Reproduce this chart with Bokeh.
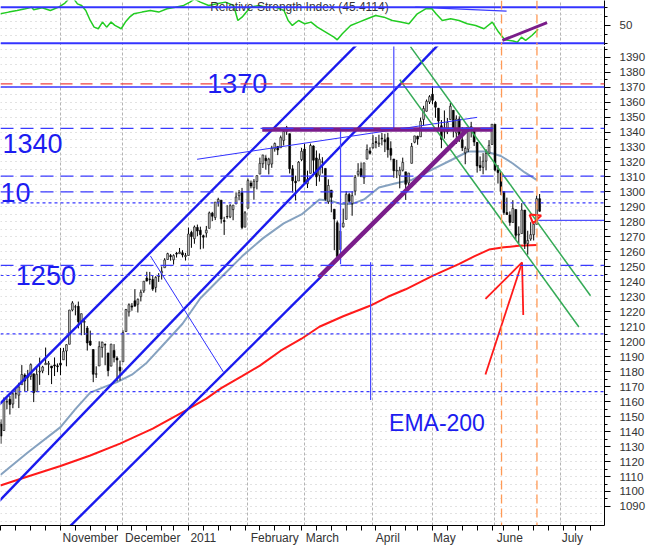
import numpy as np
from bokeh.plotting import figure
from bokeh.layouts import column
from bokeh.models import Range1d, FixedTicker, Span, Arrow, ColumnDataSource
from bokeh.core.properties import value
from bokeh.embed import file_html
from bokeh.resources import INLINE

# ---------------- data (trading-day index: 0 = 1 Oct 2010 ... 182 = 22 Jun 2011) ----------------
opens = [
    1143.5, 1145.0, 1140.7, 1159.8, 1161.6, 1158.4, 1165.3, 1164.3, 1171.3, 1177.8, 1177.5, 1176.8, 1178.6, 1166.7, 1179.8, 1180.5, 1184.7, 1184.9, 1183.8, 1184.5, 1183.9,
    1185.7, 1187.9, 1193.8, 1198.3, 1221.2, 1223.2, 1223.6, 1213.1, 1213.0, 1209.1, 1200.4, 1194.8, 1178.3, 1183.8, 1196.1, 1198.1, 1192.5, 1183.7, 1194.2, 1189.1, 1183.0,
    1186.6, 1206.8, 1219.9, 1223.9, 1227.3, 1225.0, 1230.1, 1233.9, 1242.5, 1241.8, 1241.6, 1236.3, 1243.6, 1245.8, 1249.4, 1254.9, 1257.5, 1254.7, 1259.1, 1258.8, 1259.4, 1256.8,
    1257.6, 1273.0, 1268.8, 1276.3, 1274.4, 1270.8, 1272.6, 1275.7, 1285.8, 1282.9, 1293.2, 1294.5, 1280.9, 1283.6, 1283.3, 1288.2, 1292.0, 1297.5, 1299.6, 1276.5,
    1289.1, 1305.9, 1302.8, 1307.0, 1311.9, 1318.8, 1322.5, 1318.1, 1318.7, 1328.7, 1330.4, 1329.5, 1334.4, 1340.4, 1338.9, 1315.4, 1307.1, 1307.3, 1321.6,
    1328.6, 1305.5, 1312.4, 1330.7, 1322.7, 1311.1, 1319.9, 1315.7, 1293.4, 1301.2, 1288.5, 1279.5, 1261.6, 1276.7, 1281.7, 1298.3, 1292.2, 1300.6, 1311.8, 1315.5, 1309.4, 1321.9, 1327.4,
    1329.5, 1333.6, 1332.0, 1335.9, 1334.8, 1336.2, 1329.0, 1322.0, 1314.0, 1311.1, 1314.5, 1313.4, 1306.0, 1319.1, 1333.2, 1337.1, 1336.8, 1348.4, 1353.9, 1360.1,
    1365.2, 1359.8, 1355.9, 1344.2, 1340.2, 1340.2, 1348.3, 1354.5, 1339.4, 1348.7, 1334.8, 1326.1, 1328.5, 1342.4, 1342.0, 1333.1, 1317.7, 1316.4, 1320.6, 1325.7, 1331.7,
    1345.2, 1314.6, 1312.9, 1300.3, 1286.3, 1284.6, 1279.6, 1288.3, 1271.3, 1272.2, 1287.9, 1265.5, 1268.6, 1271.5, 1278.4, 1295.5,
]
highs = [
    1150.3, 1148.2, 1162.8, 1162.3, 1163.9, 1167.7, 1168.7, 1172.6, 1184.4, 1178.9, 1181.2, 1185.5, 1178.6, 1182.9, 1189.4, 1183.9, 1196.1, 1187.1, 1183.8, 1189.5, 1185.5,
    1195.8, 1195.9, 1198.3, 1221.3, 1227.1, 1224.6, 1226.8, 1218.8, 1215.5, 1210.5, 1207.4, 1194.8, 1183.6, 1200.3, 1200.0, 1198.9, 1192.5, 1198.6, 1198.4, 1190.3, 1187.4,
    1207.6, 1221.9, 1225.6, 1225.8, 1235.1, 1228.9, 1234.7, 1240.4, 1246.7, 1246.6, 1244.3, 1243.8, 1245.8, 1250.2, 1255.8, 1259.4, 1258.6, 1258.4, 1259.9, 1262.6, 1261.1, 1259.3,
    1276.2, 1274.1, 1277.6, 1278.2, 1276.8, 1271.5, 1277.3, 1286.9, 1286.7, 1293.2, 1296.1, 1294.6, 1283.4, 1291.2, 1291.9, 1291.3, 1299.7, 1301.3, 1302.7, 1287.2,
    1308.9, 1307.6, 1308.6, 1311.0, 1322.9, 1324.9, 1324.5, 1322.8, 1330.8, 1333.0, 1330.4, 1337.6, 1341.5, 1344.1, 1338.9, 1317.9, 1310.9, 1320.6, 1329.4,
    1332.1, 1314.2, 1332.3, 1331.1, 1327.7, 1325.7, 1323.2, 1315.7, 1308.4, 1301.2, 1288.5, 1280.9, 1278.9, 1288.9, 1300.6, 1299.4, 1300.5, 1311.3, 1319.2, 1319.7, 1319.5, 1331.7, 1329.8,
    1337.9, 1336.7, 1338.2, 1339.4, 1338.8, 1339.5, 1333.8, 1322.0, 1321.4, 1316.8, 1322.9, 1313.4, 1312.7, 1332.7, 1337.5, 1337.6, 1349.6, 1357.5, 1361.7, 1364.6,
    1370.6, 1360.8, 1355.9, 1348.0, 1354.4, 1349.4, 1359.4, 1354.5, 1351.1, 1350.5, 1343.3, 1330.4, 1341.8, 1346.8, 1342.0, 1333.1, 1323.7, 1325.9, 1328.5, 1334.6, 1345.2,
    1345.2, 1318.0, 1312.9, 1300.3, 1296.2, 1287.0, 1294.5, 1288.3, 1277.0, 1292.5, 1287.9, 1274.1, 1279.8, 1280.4, 1297.6, 1298.6,
]
lows = [
    1139.4, 1131.9, 1140.7, 1154.9, 1151.4, 1155.6, 1162.0, 1155.7, 1171.3, 1166.7, 1167.1, 1174.6, 1159.7, 1166.7, 1171.2, 1179.0, 1184.7, 1177.7, 1171.7, 1177.1, 1179.7,
    1177.7, 1187.9, 1183.6, 1198.3, 1220.3, 1217.6, 1208.9, 1204.3, 1204.5, 1194.1, 1197.2, 1173.0, 1175.8, 1183.8, 1189.4, 1184.3, 1176.9, 1183.7, 1186.2, 1173.6, 1174.1,
    1186.6, 1206.8, 1216.8, 1220.7, 1223.3, 1219.5, 1226.9, 1232.6, 1240.3, 1238.2, 1234.0, 1232.9, 1239.9, 1241.5, 1249.4, 1254.9, 1254.1, 1251.5, 1256.2, 1258.8, 1256.3, 1254.2,
    1257.6, 1262.7, 1265.4, 1270.4, 1261.7, 1262.2, 1269.6, 1275.7, 1280.5, 1281.2, 1290.2, 1278.9, 1271.3, 1282.1, 1282.5, 1281.1, 1292.0, 1294.4, 1275.1, 1276.5,
    1289.1, 1302.4, 1294.8, 1301.7, 1311.9, 1316.0, 1314.9, 1311.7, 1316.1, 1326.9, 1324.6, 1329.5, 1331.0, 1338.1, 1312.3, 1299.6, 1294.3, 1307.3, 1320.6,
    1305.3, 1302.6, 1312.4, 1312.6, 1304.0, 1306.9, 1312.3, 1294.2, 1292.0, 1286.4, 1261.1, 1254.0, 1261.6, 1276.2, 1281.7, 1292.7, 1284.1, 1297.7, 1310.2, 1310.2, 1305.3, 1321.9, 1325.0,
    1328.9, 1329.1, 1330.0, 1331.1, 1326.6, 1322.9, 1321.1, 1309.5, 1309.2, 1302.4, 1313.7, 1294.7, 1304.0, 1319.1, 1332.5, 1331.5, 1336.8, 1344.3, 1353.6, 1358.7,
    1358.6, 1349.5, 1341.5, 1329.2, 1335.6, 1338.6, 1348.3, 1336.4, 1332.0, 1333.4, 1327.3, 1318.5, 1326.6, 1336.4, 1330.7, 1312.9, 1313.9, 1311.8, 1314.4, 1325.7, 1331.7,
    1313.7, 1305.6, 1297.9, 1284.7, 1284.7, 1277.4, 1279.6, 1268.3, 1265.6, 1272.2, 1261.9, 1258.1, 1267.4, 1267.6, 1278.4, 1286.8,
]
closes = [
    1146.2, 1137.0, 1160.8, 1160.0, 1158.1, 1165.2, 1165.3, 1169.8, 1178.1, 1173.8, 1176.2, 1184.7, 1165.9, 1178.2, 1180.3, 1183.1, 1185.6, 1185.6, 1182.5, 1183.8, 1183.3,
    1184.4, 1193.6, 1198.0, 1221.1, 1225.9, 1223.3, 1213.4, 1218.7, 1213.5, 1199.2, 1197.8, 1178.3, 1178.6, 1196.7, 1199.7, 1197.8, 1180.7, 1198.4, 1189.4, 1187.8, 1180.6,
    1206.1, 1221.5, 1224.7, 1223.1, 1223.8, 1228.3, 1233.0, 1240.4, 1240.5, 1241.6, 1235.2, 1242.9, 1243.9, 1247.1, 1254.6, 1258.8, 1256.8, 1257.5, 1258.5, 1259.8, 1257.9, 1257.6,
    1271.9, 1270.2, 1276.6, 1273.9, 1271.5, 1269.8, 1274.5, 1286.0, 1283.8, 1293.2, 1295.0, 1281.9, 1280.3, 1283.4, 1290.8, 1291.2, 1296.6, 1299.5, 1276.3, 1286.1,
    1307.6, 1304.0, 1307.1, 1310.9, 1319.1, 1324.6, 1320.9, 1321.9, 1329.2, 1332.3, 1328.0, 1336.3, 1340.4, 1343.0, 1315.4, 1307.4, 1306.1, 1319.9, 1327.2,
    1306.3, 1308.4, 1331.0, 1321.2, 1310.1, 1321.8, 1320.0, 1295.1, 1304.3, 1296.4, 1281.9, 1256.9, 1273.7, 1279.2, 1298.4, 1293.8, 1297.5, 1309.7, 1313.8, 1310.2, 1319.4, 1328.3, 1325.8,
    1332.4, 1332.9, 1332.6, 1335.5, 1333.5, 1328.2, 1324.5, 1314.2, 1314.4, 1314.5, 1319.7, 1305.1, 1312.6, 1330.4, 1337.4, 1335.3, 1347.2, 1355.7, 1360.5, 1363.6,
    1361.2, 1356.6, 1347.3, 1335.1, 1340.2, 1346.3, 1357.2, 1342.1, 1348.7, 1337.8, 1329.5, 1329.0, 1340.7, 1343.6, 1333.3, 1317.4, 1316.3, 1320.5, 1325.7, 1331.1, 1345.2,
    1314.6, 1312.9, 1300.2, 1286.2, 1284.9, 1279.6, 1289.0, 1271.0, 1271.8, 1287.9, 1265.4, 1267.6, 1271.5, 1278.4, 1295.5, 1287.1,
]

# moving averages (day index, value)
ema50_day = [0.8, 10, 21, 26, 31, 36, 40, 45, 50, 56, 62, 68, 75, 82, 89, 96, 102, 108, 112, 115, 119, 123, 128, 134, 139, 146, 152, 158, 164, 169, 173, 177, 181]
ema50_val = [1111, 1126, 1143, 1155, 1166, 1170, 1173, 1178, 1186, 1199, 1212, 1229, 1243, 1257, 1269, 1279, 1285, 1295, 1294, 1292, 1292, 1295, 1303, 1306, 1308, 1315, 1321, 1327, 1327, 1324, 1319, 1313, 1308]
ema200_day = [0.8, 10, 21, 31, 41, 52, 63, 70, 75, 82, 88, 95, 102, 108, 116, 125, 131, 137, 146, 155, 160, 165, 170, 175, 181]
ema200_val = [1104, 1110, 1117, 1124, 1132, 1142, 1154, 1162, 1169, 1177, 1184, 1194, 1202, 1210, 1217, 1224, 1230, 1235, 1244, 1252, 1257, 1261.5, 1263, 1264, 1264.5]

# RSI
rsi_day = [0.8, 3.6, 6.4, 9.2, 11.3, 12.0, 14.8, 17.6, 20.4, 22.5, 24.0, 25.3, 26.7, 28.1, 29.5, 31.0, 32.3, 33.7,
           35.1, 36.5, 38.0, 39.3, 41.4, 42.8, 44.2, 45.6, 48.4, 51.2, 54.0, 56.8, 59.6, 62.4, 64.5, 66.0, 68.0, 70.8,
           73.6, 76.4, 79.2, 80.6, 82.0, 84.8, 87.6, 90.4, 93.2, 96.1, 97.5, 98.9, 101.0, 103.1, 105.2, 107.3, 110.1,
           112.9, 114.0, 115.7, 118.5, 121.3, 124.1, 126.9, 129.7, 132.5, 135.3, 138.1, 140.9, 143.7, 145.8, 147.2,
           149.3, 152.1, 154.9, 157.7, 160.5, 163.3, 166.1, 168.2, 170.3, 173.1, 174.5, 175.9, 177.3, 179.4, 181.5]
rsi_val = [62.6, 64.5, 66.3, 68.2, 70.0, 67.1, 69.3, 66.3, 70.0, 74.5, 80.0, 80.0, 73.7, 71.9, 66.3, 55.2, 47.8, 46.0,
           53.4, 47.8, 53.4, 49.7, 46.0, 53.4, 58.9, 62.6, 64.5, 66.3, 64.5, 68.2, 70.0, 71.9, 75.6, 79.0, 75.6, 71.9,
           73.7, 75.6, 71.9, 55.2, 58.9, 70.0, 71.9, 70.0, 70.0, 66.3, 55.2, 49.7, 55.2, 51.5, 53.4, 47.8, 42.3,
           36.7, 33.7, 40.4, 49.7, 53.4, 57.1, 60.8, 58.9, 55.2, 53.4, 51.5, 62.6, 68.2, 68.2, 62.6,
           55.2, 57.1, 55.2, 51.5, 49.7, 46.0, 53.4, 42.3, 33.7, 32.3, 31.1, 36.7, 33.0, 38.5, 45.4]

# horizontal support / resistance levels
level_red_dash = [1372.2]
level_solid = [1370.0]
level_long_dash = [1342.5, 1310.5, 1300.0, 1251.0]
level_dotted = [1292.7, 1244.2, 1205.2, 1166.7]
level_short = [1281.0]          # short solid level at the right
level_short_from = [181.6]

# blue up-channel (day0, price0, day1, price1)
chan_x0 = [0.0, 0.0, 23.8]
chan_y0 = [1157.2, 1092.8, 1076.0]
chan_x1 = [125.0, 155.0, 108.4]
chan_y1 = [1407.2, 1412.8, 1243.1]

# thin blue helper lines
thin_x0 = [51.2, 66.9]
thin_y0 = [1257.3, 1321.8]
thin_x1 = [75.7, 161.0]
thin_y1 = [1179.9, 1349.8]
vert_x = [133.0, 115.1, 125.2]
vert_y0 = [1400.0, 1342.7, 1253.1]
vert_y1 = [1342.5, 1251.8, 1161.1]

# purple lines
purple_x0 = [88.8, 107.8]
purple_y0 = [1341.7, 1243.0]
purple_x1 = [166.2, 158.1]
purple_y1 = [1341.7, 1342.4]

# green down-channel
green_x0 = [138.6, 135.0]
green_y0 = [1397.0, 1375.0]
green_x1 = [199.1, 195.2]
green_y1 = [1230.7, 1209.8]

# orange dashed verticals
orange_days = [169.2, 181.1]

# red arrows to the 200-EMA
arrow_tip_x, arrow_tip_y = 176.1, 1252.9
arrow_tail_x = [163.8, 163.8, 176.5]
arrow_tail_y = [1178.1, 1228.6, 1217.9]
small_arrow_x = [178.6, 182.5, 179.8, 178.6]
small_arrow_y = [1284.9, 1284.3, 1279.0, 1284.9]

# RSI-panel extra lines
rsi_thin_x = [140.2, 170.9]
rsi_thin_y = [70.0, 65.6]
rsi_purple_x = [169.5, 184.5]
rsi_purple_y = [33.0, 52.7]

# axis ticks
month_names = ["November", "December", "2011", "February", "March", "April", "May", "June", "July"]
month_start = [21, 42, 64, 84, 103, 126, 146, 167, 189]
week_start = [1, 6, 11, 16, 21, 26, 31, 36, 40, 45, 50, 55, 59, 64, 69, 74, 78, 83, 88, 93, 98, 102, 107, 112,
              117, 122, 127, 132, 137, 141, 146, 151, 156, 161, 166, 170, 175, 180, 185, 190, 194, 199]
price_ticks = list(range(1090, 1400, 10))

# ---------------- layout constants ----------------
X0, X1 = 0.84, 203.8
PX_PER_DAY = 604 / (X1 - X0)
BLUE = "#1a1aee"
TXT_BLUE = "#1c1cf0"
PURPLE = "#7a1d8a"
GREEN = "#33aa55"
ORANGE = "#ff9955"
RED = "#ff1a1a"
EMA50_C = "#86a2c0"
DOTS = "#c4c4c4"

xr = Range1d(X0, X1)

# ---------------- RSI panel ----------------
r = figure(width=650, height=45, x_range=xr, y_range=Range1d(27.4, 77.4),
           output_backend="svg", toolbar_location=None, y_axis_location="right",
           x_axis_location=None, min_border_left=0, min_border_right=46,
           min_border_top=0, min_border_bottom=0)
r.outline_line_color = None
r.xgrid.ticker = FixedTicker(ticks=month_start)
r.xgrid.grid_line_color = "#b4b4b4"
r.xgrid.grid_line_dash = "3 2"
r.ygrid.ticker = FixedTicker(ticks=list(range(30, 80, 8)))
r.ygrid.grid_line_color = DOTS
r.ygrid.grid_line_dash = "1 4"
for lv in (70, 30):
    r.add_layout(Span(location=lv, dimension="width", line_color="#3434ff", line_width=2))
r.line(rsi_thin_x, rsi_thin_y, line_color="#3a3aff", line_width=1.2)
for d in orange_days:
    r.add_layout(Span(location=d, dimension="height", line_color=ORANGE, line_width=1.3, line_dash="9 5"))
r.line(rsi_day, rsi_val, line_color="#22cc22", line_width=1.5)
r.line(rsi_purple_x, rsi_purple_y, line_color=PURPLE, line_width=3)
r.text(x=[101.3], y=[69.7], text=["Relative Strength Index (45.4114)"], text_font=value("Liberation Sans"),
       text_font_size="12px", text_color="#333333", text_align="center", text_baseline="middle")
ra = r.yaxis[0]
ra.ticker = FixedTicker(ticks=[50], minor_ticks=[30, 40, 60, 70])
ra.axis_line_color = "black"
ra.major_tick_out = 6
ra.major_tick_in = 0
ra.minor_tick_out = 3
ra.minor_tick_in = 0
ra.major_label_standoff = 9
ra.major_label_text_font = "Liberation Sans"
ra.major_label_text_font_size = "11.5px"
ra.major_label_text_color = "#333333"

# ---------------- price panel ----------------
p = figure(width=650, height=502, x_range=xr, y_range=Range1d(1077.3, 1397.1),
           output_backend="svg", toolbar_location=None, y_axis_location="right",
           min_border_left=0, min_border_right=46, min_border_top=1, min_border_bottom=19)
p.outline_line_color = None
p.xgrid.ticker = FixedTicker(ticks=month_start)
p.xgrid.grid_line_color = "#b4b4b4"
p.xgrid.grid_line_dash = "3 2"
p.ygrid.ticker = FixedTicker(ticks=list(range(1080, 1400, 5)))
p.ygrid.grid_line_color = DOTS
p.ygrid.grid_line_dash = "1 4"

for lv in level_red_dash:
    p.add_layout(Span(location=lv, dimension="width", line_color="#ee4444", line_width=1.3, line_dash="12 8"))
for lv in level_solid:
    p.add_layout(Span(location=lv, dimension="width", line_color="#3a3aff", line_width=1.5))
for lv in level_long_dash:
    p.add_layout(Span(location=lv, dimension="width", line_color="#3a3aff", line_width=1.3, line_dash="13 7"))
for lv in level_dotted:
    p.add_layout(Span(location=lv, dimension="width", line_color="#3a3aff", line_width=1.2, line_dash="3 3"))
for lv, x0 in zip(level_short, level_short_from):
    p.line([x0, X1], [lv, lv], line_color="#5050ff", line_width=1.3)
for d in orange_days:
    p.add_layout(Span(location=d, dimension="height", line_color=ORANGE, line_width=1.3, line_dash="9 5"))

# moving averages
p.line(ema200_day, ema200_val, line_color=RED, line_width=2)
p.line(ema50_day, ema50_val, line_color=EMA50_C, line_width=2)

# candles
o = np.array(opens); c = np.array(closes)
up = c >= o
src = ColumnDataSource(dict(
    x=np.arange(len(closes)), h=highs, l=lows,
    top=np.maximum(o, c), bottom=np.minimum(o, c),
    fill=np.where(up, "#c4c4c4", "#000000"),
))
p.segment(x0="x", y0="l", x1="x", y1="h", source=src, line_color="black", line_width=1)
p.vbar(x="x", width=0.62, top="top", bottom="bottom", source=src, fill_color="fill",
       line_color="black", line_width=0.6)

# trend lines
p.segment(x0=chan_x0, y0=chan_y0, x1=chan_x1, y1=chan_y1, line_color=BLUE, line_width=2.4)
p.segment(x0=thin_x0, y0=thin_y0, x1=thin_x1, y1=thin_y1, line_color="#3030ff", line_width=1)
p.segment(x0=vert_x, y0=vert_y0, x1=vert_x, y1=vert_y1, line_color="#4848ff", line_width=1.2)
p.segment(x0=green_x0, y0=green_y0, x1=green_x1, y1=green_y1, line_color=GREEN, line_width=1.5)
p.segment(x0=purple_x0, y0=purple_y0, x1=purple_x1, y1=purple_y1, line_color=PURPLE, line_width=4.5)

# red arrows
p.segment(x0=arrow_tail_x, y0=arrow_tail_y, x1=[arrow_tip_x] * 3, y1=[arrow_tip_y] * 3,
          line_color=RED, line_width=1.8)
p.line(small_arrow_x, small_arrow_y, line_color=RED, line_width=2)

# big annotations
p.text(x=[80.4], y=[1372.7], text=["1370"], text_font=value("Liberation Sans"), text_font_size="27px",
       text_color=TXT_BLUE, text_align="center", text_baseline="alphabetic")
p.text(x=[1.5], y=[1332.1], text=["1340"], text_font=value("Liberation Sans"), text_font_size="27px",
       text_color=TXT_BLUE, text_align="left", text_baseline="alphabetic")
p.text(x=[X0], y=[1299.4], text=["10"], text_font=value("Liberation Sans"), text_font_size="27px",
       text_color=TXT_BLUE, text_align="left", text_baseline="alphabetic")
p.text(x=[6.0], y=[1244.0], text=["1250"], text_font=value("Liberation Sans"), text_font_size="27px",
       text_color=TXT_BLUE, text_align="left", text_baseline="alphabetic")
p.text(x=[131.4], y=[1145.6], text=["EMA-200"], text_font=value("Liberation Sans"), text_font_size="23px",
       text_color=TXT_BLUE, text_align="left", text_baseline="alphabetic")

# price axis
ya = p.yaxis[0]
ya.ticker = FixedTicker(ticks=price_ticks, minor_ticks=[t + 5 for t in price_ticks])
ya.axis_line_color = "black"
ya.major_tick_out = 6
ya.major_tick_in = 0
ya.minor_tick_out = 3
ya.minor_tick_in = 0
ya.major_label_standoff = 9
ya.major_label_text_font = "Liberation Sans"
ya.major_label_text_font_size = "11.5px"
ya.major_label_text_color = "#333333"

# time axis: month names start just right of the month boundary
AW = {'N': .722, 'o': .556, 'v': .5, 'e': .556, 'm': .833, 'b': .556, 'r': .333, 'D': .722, 'c': .5,
      '2': .556, '0': .556, '1': .556, 'F': .611, 'u': .556, 'a': .556, 'y': .5, 'M': .833, 'h': .556,
      'A': .667, 'p': .556, 'i': .222, 'l': .222, 'J': .5, 'n': .556}
centers = []
for s, name in zip(month_start, month_names):
    wpx = 12 * sum(AW.get(ch, .55) for ch in name)
    centers.append(int(round(s + (2 + wpx / 2) / PX_PER_DAY)))
xa = p.xaxis[0]
xa.ticker = FixedTicker(ticks=centers, minor_ticks=week_start)
xa.major_label_overrides = {cc: nm for cc, nm in zip(centers, month_names)}
xa.axis_line_color = "black"
xa.major_tick_line_color = None
xa.major_tick_out = 0
xa.major_tick_in = 0
xa.minor_tick_out = 5
xa.minor_tick_in = 0
xa.major_label_standoff = 0
xa.major_label_text_font = "Liberation Sans"
xa.major_label_text_font_size = "12px"
xa.major_label_text_color = "#333333"
for s in month_start:
    p.add_layout(Arrow(end=None, x_start=s, y_start=1077.3, x_end=s, y_end=1065.0,
                       line_color="#333333", line_width=1))

layout = column(r, p, spacing=0)
open("out.html", "w").write(file_html(layout, INLINE))
